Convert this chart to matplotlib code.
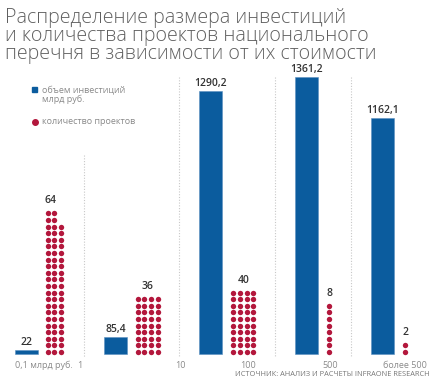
import matplotlib
matplotlib.use("Agg")
import matplotlib.pyplot as plt

# данные
categories = ["0,1 млрд руб.", "1", "10", "100", "500", "более 500"]
investments = [22, 85.4, 1290.2, 1361.2, 1162.1]   # млрд руб.
projects = [64, 36, 40, 8, 2]                        # количество проектов

title = ("Распределение размера инвестиций\n"
         "и количества проектов национального\n"
         "перечня в зависимости от их стоимости")
source = "ИСТОЧНИК: АНАЛИЗ И РАСЧЕТЫ INFRAONE RESEARCH"

# раскладка (пиксели картинки 436x380)
W, H = 436, 380
BASE = 354           # линия основания
BAR_TOP_PX = 277     # высота максимального столбца
bar_left = [15, 104, 199, 295, 371]
bar_w = 23
dot_x0 = [47.5, 137.7, 233.3, 329, 405]
dot_cols = [3, 4, 4, 1, 1]
pitch = 6.6
sep_x = [84, 179, 275, 351]
sep_top = [155, 77, 77, 77]
cat_x = [15, 80, 180, 248, 330, 405]
cat_ha = ["left", "center", "center", "center", "center", "center"]

BLUE = "#0b5c9e"
RED = "#b3173c"
GREY = "#8a8a8a"
TXT = "#333333"
FONT = ["Open Sans", "DejaVu Sans"]
plt.rcParams["font.family"] = FONT


def fy(y):
    return 1 - y / H


def fx(x):
    return x / W


fig = plt.figure(figsize=(W / 100, H / 100), dpi=100)
fig.patch.set_facecolor("white")

k = BAR_TOP_PX / max(investments)
ax = fig.add_axes([0, 0, 1, 1])
ax.set_xlim(0, W)
ax.set_ylim(-(H - BASE) / k, BASE / k)
ax.axis("off")

# сетка точек — своя ось, единица = один ряд
axd = ax.twinx()
axd.set_xlim(0, W)
axd.set_ylim(-(H - BASE) / pitch, BASE / pitch)
axd.axis("off")

# разделители
for x, t in zip(sep_x, sep_top):
    ax.axvline(x, ymin=fy(t), ymax=fy(357), color="#c8c8c8", lw=0.8,
               ls=(0, (1, 1.5)))

# столбцы
bars = ax.bar(bar_left, investments, width=bar_w, align="edge", color=BLUE,
              edgecolor="#5b8fc0", linewidth=0.4)
for b, v in zip(bars, investments):
    lab = str(int(v)) if v == int(v) else f"{v:.1f}".replace(".", ",")
    ax.annotate(lab, xy=(b.get_x() + b.get_width() / 2, v), xytext=(0, 5),
                textcoords="offset pixels", ha="center", va="baseline",
                fontsize=7.5, fontweight="semibold", color=TXT)

# точки
for n, x0, nc in zip(projects, dot_x0, dot_cols):
    narrow = 0
    while (n - 2 * narrow) % nc:
        narrow += 1
    full = (n - 2 * narrow) // nc
    xs, ys = [], []
    for r in range(full):
        for c in range(nc):
            xs.append(x0 + c * pitch)
            ys.append(r + 0.3)
    for r in range(narrow):
        for c in range(2):
            xs.append(x0 + c * pitch)
            ys.append(full + r + 0.3)
    axd.scatter(xs, ys, s=15, color=RED, linewidths=0)
    top_w = 2 if narrow else nc
    axd.annotate(str(n), xy=(x0 + (top_w - 1) * pitch / 2, max(ys)),
                 xytext=(0, 10), textcoords="offset pixels", ha="center",
                 va="baseline", fontsize=7.5, fontweight="semibold", color=TXT)

# подписи категорий
for lab, x, ha in zip(categories, cat_x, cat_ha):
    fig.text(fx(x), fy(365), lab, ha=ha, va="center", fontsize=6.5,
             color=GREY)

# заголовок (baseline = последняя строка)
fig.text(fx(5), fy(59.5), title, ha="left", va="baseline", fontsize=14.1,
         fontweight="light", color="#606060", linespacing=0.87)

# легенда
fig.patches.append(plt.Rectangle((fx(32), fy(92)), 5 / W, 5 / H,
                                 transform=fig.transFigure, color=BLUE))
fig.text(fx(42), fy(95), "объем инвестиций\nмлрд руб.", ha="left",
         va="center", fontsize=6.5, color=GREY, linespacing=0.9)
ax.plot([fx(34.5)], [fy(122)], "o", color=RED, ms=4, transform=fig.transFigure)
fig.text(fx(42), fy(122), "количество проектов", ha="left", va="center",
         fontsize=6.5, color=GREY)

# источник
fig.text(fx(430), fy(374), source, ha="right", va="center", fontsize=5.3,
         color="#777777")

fig.savefig("out.png", dpi=100, facecolor="white")
